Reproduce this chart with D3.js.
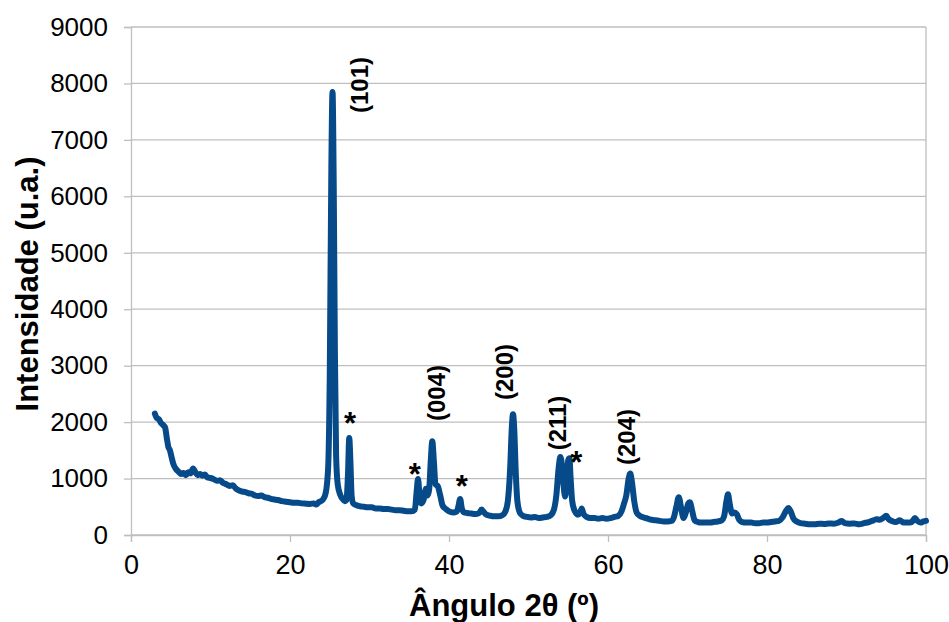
<!DOCTYPE html>
<html>
<head>
<meta charset="utf-8">
<script src="https://cdn.jsdelivr.net/npm/d3@7"></script>
<style>
html,body{margin:0;padding:0;background:#fff;}
svg{display:block;}
</style>
</head>
<body>
<svg id="chart" width="949" height="622"></svg>
<script>
// ---- data ----
const angle2theta = [3.0,3.2,3.5,3.8,4.1,4.3,4.5,4.7,4.9,5.1,5.3,5.6,6.0,6.3,6.6,6.9,7.2,7.5,7.8,8.1,8.4,8.7,9.0,9.3,9.6,10.0,10.4,10.8,11.2,11.6,12.0,12.4,12.8,13.2,13.6,14.0,14.4,14.8,15.2,15.6,16.0,16.4,16.8,17.2,17.6,18.0,18.5,19.0,19.5,20.0,20.5,21.0,21.5,22.0,22.5,23.0,23.3,23.6,23.9,24.2,24.5,24.8,25.0,25.2,25.35,25.5,25.65,25.8,26.0,26.3,26.6,26.9,27.1,27.3,27.45,27.6,27.75,27.95,28.3,28.8,29.3,29.8,30.3,30.8,31.3,31.8,32.3,32.8,33.3,33.8,34.3,34.8,35.3,35.7,35.95,36.1,36.3,36.5,36.8,37.1,37.3,37.5,37.7,37.9,38.1,38.3,38.6,38.9,39.2,39.6,40.0,40.5,41.0,41.2,41.4,41.6,41.9,42.3,42.8,43.3,43.8,44.1,44.3,44.7,45.2,45.7,46.2,46.7,47.1,47.4,47.7,47.9,48.05,48.2,48.4,48.6,48.9,49.3,49.8,50.3,50.8,51.3,51.8,52.3,52.8,53.2,53.5,53.8,54.0,54.2,54.4,54.6,54.8,55.0,55.15,55.3,55.5,55.8,56.2,56.5,56.7,56.9,57.3,57.8,58.3,58.8,59.3,59.8,60.3,60.8,61.3,61.7,62.0,62.3,62.6,62.8,63.0,63.3,63.6,64.0,64.5,65.0,65.5,66.0,66.5,67.0,67.5,68.0,68.3,68.6,68.9,69.2,69.5,69.8,70.1,70.3,70.6,70.9,71.3,71.8,72.3,72.8,73.3,73.8,74.3,74.6,74.9,75.1,75.3,75.6,75.9,76.2,76.5,76.9,77.4,78.0,78.5,79.0,79.5,80.0,80.5,81.0,81.5,82.0,82.4,82.7,83.0,83.3,83.7,84.2,84.8,85.4,86.0,86.6,87.2,87.8,88.4,89.0,89.4,89.8,90.4,91.0,91.6,92.2,92.8,93.4,93.8,94.2,94.6,95.0,95.3,95.7,96.2,96.7,97.2,97.7,98.2,98.6,98.9,99.3,99.7,100.0];
const intensity = [2150,2080,2050,1980,1940,1900,1720,1560,1500,1380,1270,1180,1120,1080,1100,1060,1110,1090,1180,1110,1060,1080,1050,1070,1020,1010,990,960,970,920,900,870,880,820,790,770,760,740,730,700,690,700,670,660,640,630,620,600,590,580,570,570,560,555,550,560,540,580,600,640,750,1200,2800,6500,7850,6200,3200,1400,900,720,640,600,620,1100,1720,1300,700,560,530,510,500,490,490,470,470,460,460,450,440,440,430,420,420,450,800,990,700,560,620,820,700,800,1300,1660,1300,900,860,700,520,460,420,400,420,520,640,480,400,390,380,370,390,450,420,360,340,330,330,350,420,600,1200,1900,2140,1900,1100,600,400,340,320,310,320,300,310,320,350,450,700,1200,1380,1250,900,680,900,1330,1360,1000,600,430,360,400,470,380,320,300,300,290,300,290,300,320,340,420,550,700,1000,1090,950,600,400,340,310,290,270,260,250,240,240,250,320,500,670,480,300,400,560,580,420,260,230,220,220,220,230,240,260,330,600,720,560,380,400,370,270,230,220,220,210,210,220,220,230,240,250,320,430,480,410,300,240,210,200,190,190,200,195,205,200,220,250,210,200,205,190,210,230,260,280,270,300,340,280,250,230,260,220,220,230,300,250,220,240,250];

const xTickValues = [0,20,40,60,80,100];
const yTickValues = [0,1000,2000,3000,4000,5000,6000,7000,8000,9000];

const peakLabels = ["(101)","(004)","(200)","(211)","(204)"];
const peakLabelAngle = [28.7,38.4,47.0,53.6,62.4];
const peakLabelIntensity = [7973,2516,2888,1984,1736];

const starAngle = [27.55,35.7,41.6,56.0];
const starIntensity = [2096,1187,974,1400];

const xTitle = "Ângulo 2θ (º)";
const yTitle = "Intensidade (u.a.)";

// ---- layout ----
const W = 949, H = 622;
const plot = {left:131, right:926, top:27, bottom:535};
const svg = d3.select("#chart");

const x = d3.scaleLinear().domain([0,100]).range([plot.left, plot.right]);
const y = d3.scaleLinear().domain([0,9000]).range([plot.bottom, plot.top]);

const gridColor = "#bfbfbf";
const lineColor = "#064a89";
const font = "'Liberation Sans', Arial, sans-serif";

// gridlines
svg.append("g").selectAll("line").data(yTickValues).join("line")
  .attr("x1", plot.left).attr("x2", plot.right)
  .attr("y1", d=>y(d)).attr("y2", d=>y(d))
  .attr("stroke", gridColor).attr("stroke-width", 1.3);

// right border
svg.append("line").attr("x1", plot.right).attr("x2", plot.right)
  .attr("y1", plot.top).attr("y2", plot.bottom)
  .attr("stroke", gridColor).attr("stroke-width", 1.3);

// y axis
const yAxis = d3.axisLeft(y).tickValues(yTickValues).tickSize(7).tickPadding(16).tickFormat(d3.format("d"));
const gy = svg.append("g").attr("transform", `translate(${plot.left},0)`).call(yAxis);
gy.select(".domain").attr("stroke", gridColor).attr("stroke-width", 1.3);
gy.selectAll(".tick line").attr("stroke", gridColor).attr("stroke-width", 1.3);
gy.selectAll(".tick text").attr("font-family", font)
  .attr("font-size", 26).attr("fill", "#000");

// x axis
const xAxis = d3.axisBottom(x).tickValues(xTickValues).tickSize(7).tickPadding(13).tickFormat(d3.format("d"));
const gx = svg.append("g").attr("transform", `translate(0,${plot.bottom})`).call(xAxis);
gx.select(".domain").attr("stroke", gridColor).attr("stroke-width", 1.3);
gx.selectAll(".tick line").attr("stroke", gridColor).attr("stroke-width", 1.3);
gx.selectAll(".tick text").attr("font-family", font)
  .attr("font-size", 27).attr("fill", "#000");

// data line
const pts = angle2theta.map((a,i)=>[a, intensity[i]]);
const line = d3.line().x(d=>x(d[0])).y(d=>y(d[1])).curve(d3.curveMonotoneX);
svg.append("path").datum(pts)
  .attr("d", line).attr("fill","none")
  .attr("stroke", lineColor).attr("stroke-width", 6)
  .attr("stroke-linejoin","round").attr("stroke-linecap","round");

// peak labels (rotated)
svg.append("g").selectAll("text").data(peakLabels).join("text")
  .attr("transform", (d,i)=>`translate(${x(peakLabelAngle[i])},${y(peakLabelIntensity[i])}) rotate(-90)`)
  .attr("text-anchor","middle").attr("dy","0.35em")
  .attr("font-family", font)
  .attr("font-weight","bold").attr("font-size",24).attr("fill","#000")
  .text(d=>d);

// asterisks
svg.append("g").selectAll("text").data(starAngle).join("text")
  .attr("x", (d)=>x(d)).attr("y", (d,i)=>y(starIntensity[i]) + 17)
  .attr("text-anchor","middle")
  .attr("font-family", font)
  .attr("font-weight","bold").attr("font-size",31).attr("fill","#000")
  .text("*");

// axis titles
svg.append("text").attr("x", 504).attr("y", 616)
  .attr("text-anchor","middle")
  .attr("font-family", font)
  .attr("font-weight","bold").attr("font-size",31).attr("fill","#000")
  .text(xTitle);

svg.append("text").attr("transform", `translate(38,284) rotate(-90)`)
  .attr("text-anchor","middle")
  .attr("font-family", font)
  .attr("font-weight","bold").attr("font-size",31).attr("fill","#000")
  .text(yTitle);
</script>
</body>
</html>
